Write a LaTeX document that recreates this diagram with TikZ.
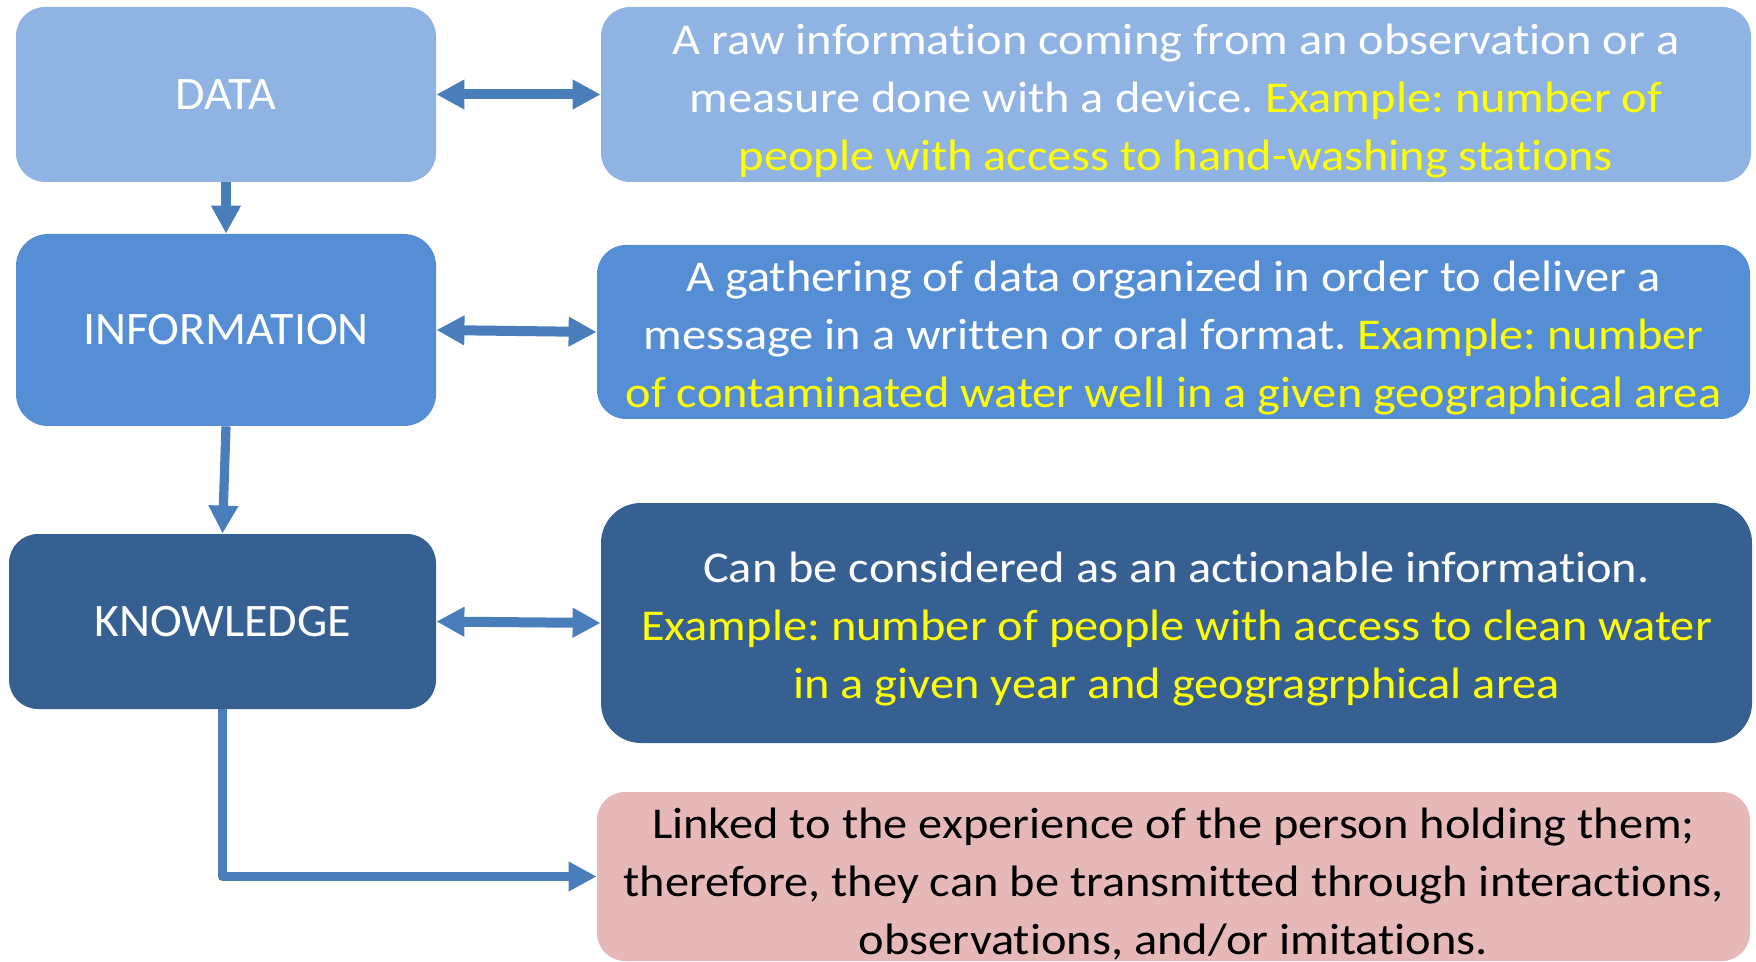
\documentclass[tikz,border=0pt]{standalone}
\usepackage{fontspec}
\setmainfont{Carlito}[Ligatures=NoCommon]
\newfontfamily\stagefont{Carlito}[Ligatures=NoCommon, FakeStretch=1.03]
\newfontfamily\descrfont{Carlito}[Ligatures=NoCommon, FakeStretch=1.1]
\usetikzlibrary{arrows.meta}
\definecolor{dataBlue}{HTML}{8FB3E2}
\definecolor{infoBlue}{HTML}{558ED5}
\definecolor{knowBlue}{HTML}{376092}
\definecolor{tacitPink}{HTML}{E6B9B8}
\definecolor{linkBlue}{HTML}{4A7EBB}
\definecolor{exYellow}{HTML}{FFFF00}
\newcommand{\ex}[1]{\textcolor{exYellow}{#1}}
% centred block of lines with no height of its own, lowered by #1
\newcommand{\textblock}[2]{\raisebox{#1}[0pt][0pt]{\begin{tabular}{@{}c@{}}#2\end{tabular}}}
\frenchspacing
\begin{document}
\begin{tikzpicture}[x=0.5pt,y=-0.5pt,
  stage/.style={rectangle, inner sep=0pt, text=white,
    font=\stagefont\fontsize{23.3}{28}\selectfont},
  descr/.style={rectangle, inner sep=0pt, text=white,
    font=\descrfont\fontsize{22}{29}\selectfont},
  duplex/.style={line width=5pt, draw=linkBlue,
    {Triangle[length=14pt,width=14pt]}-{Triangle[length=14pt,width=14pt]}},
  flow/.style={line width=4.6pt, draw=linkBlue, line join=round,
    -{Triangle[length=14pt,width=14pt]}}
]
\useasboundingbox (0,0) rectangle (1756,962);

% stages on the left
\node[stage, fill=dataBlue, minimum width=210pt, minimum height=87.5pt,
  rounded corners=14.5pt] (data) at (226,94.5) {\textblock{-8pt}{DATA}};
\node[stage, fill=infoBlue, minimum width=210pt, minimum height=96pt,
  rounded corners=16pt] (info) at (226,330) {\textblock{-8pt}{INFORMATION}};
\node[stage, fill=knowBlue, minimum width=213.5pt, minimum height=87.5pt,
  rounded corners=14.5pt] (know) at (222.5,621.5) {\textblock{-8pt}{KNOWLEDGE}};

% descriptions on the right
\node[descr, fill=dataBlue, minimum width=575pt, minimum height=87.5pt,
  rounded corners=14.5pt] (ddata) at (1176,94.5)
  {\textblock{-8.3pt}{A raw information coming from an observation or a\\
   measure done with a device. \ex{Example: number of}\\
   \ex{people with access to hand-washing stations}}};
\node[descr, fill=infoBlue, minimum width=576.5pt, minimum height=87pt,
  rounded corners=14.5pt] (dinfo) at (1173.5,332)
  {\textblock{-8.3pt}{A gathering of data organized in order to deliver a\\
   message in a written or oral format. \ex{Example: number}\\
   \ex{of contaminated water well in a given geographical area}}};
\node[descr, fill=knowBlue, minimum width=575.5pt, minimum height=120pt,
  rounded corners=20pt] (dknow) at (1176.5,623)
  {\textblock{-8.3pt}{Can be considered as an actionable information.\\
   \ex{Example: number of people with access to clean water}\\
   \ex{in a given year and geogragrphical area}}};
\node[descr, text=black, fill=tacitPink, minimum width=576.5pt, minimum height=84.5pt,
  rounded corners=14pt] (dtacit) at (1173.5,876.5)
  {\textblock{-9.4pt}{Linked to the experience of the person holding them;\\
   therefore, they can be transmitted through interactions,\\
   observations, and/or imitations.}};

% connectors
\draw[duplex] (data.east) -- (ddata.west);
\draw[duplex] (info.east) -- (dinfo.west);
\draw[duplex] (know.east) -- (dknow.west);
\draw[flow] (data.south) -- (info.north);
\draw[flow] (info.south) -- (know.north);
\draw[flow] (know.south) |- (dtacit.west);
\end{tikzpicture}
\end{document}
